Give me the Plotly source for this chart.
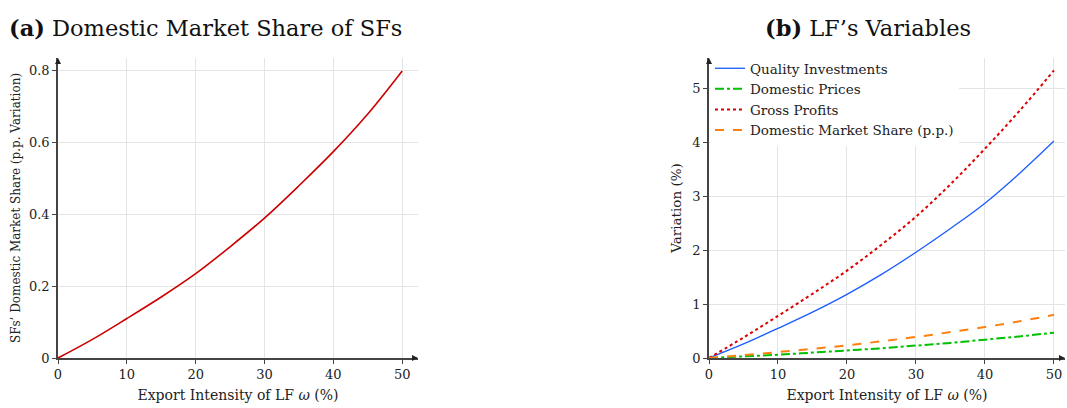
import plotly.graph_objects as go

omega = [0, 5, 10, 15, 20, 25, 30, 35, 40, 45, 50]
sf_share = [0, 0.052, 0.11, 0.17, 0.235, 0.31, 0.39, 0.48, 0.575, 0.68, 0.80]
quality = [0, 0.26, 0.55, 0.85, 1.18, 1.55, 1.96, 2.40, 2.87, 3.42, 4.02]
prices = [0, 0.03, 0.06, 0.10, 0.14, 0.18, 0.23, 0.28, 0.34, 0.40, 0.47]
profits = [0, 0.38, 0.78, 1.19, 1.62, 2.10, 2.62, 3.22, 3.88, 4.58, 5.33]
lf_share = [0, 0.052, 0.11, 0.17, 0.235, 0.31, 0.39, 0.48, 0.575, 0.68, 0.80]

x_ticks = [0, 10, 20, 30, 40, 50]
ya_ticks = [0, 0.2, 0.4, 0.6, 0.8]
yb_ticks = [0, 1, 2, 3, 4, 5]

FONT = "DejaVu Serif"
W, H = 1067.0, 408.0
fig = go.Figure()

fig.add_trace(go.Scatter(x=omega, y=sf_share, mode="lines", line=dict(color="#cc0000", width=1.6, shape="spline"),
                         showlegend=False, xaxis="x", yaxis="y"))

fig.add_trace(go.Scatter(x=omega, y=quality, mode="lines", name="Quality Investments",
                         line=dict(color="#1a5cff", width=1.3, shape="spline"), xaxis="x2", yaxis="y2"))
fig.add_trace(go.Scatter(x=omega, y=prices, mode="lines", name="Domestic Prices",
                         line=dict(color="#00c000", width=2, dash="dashdot", shape="spline"), xaxis="x2", yaxis="y2"))
fig.add_trace(go.Scatter(x=omega, y=profits, mode="lines", name="Gross Profits",
                         line=dict(color="#dd0000", width=2, dash="dot", shape="spline"), xaxis="x2", yaxis="y2"))
fig.add_trace(go.Scatter(x=omega, y=lf_share, mode="lines", name="Domestic Market Share (p.p.)",
                         line=dict(color="#ff7f0e", width=2, dash="dash", shape="spline"), xaxis="x2", yaxis="y2"))

ybot = 1 - 358 / H
ytop = 1 - 58 / H

common_x = dict(tickvals=x_ticks, showgrid=True, gridcolor="#e4e4e4", gridwidth=1, zeroline=False,
                showline=True, linecolor="#444", linewidth=1.5, ticks="outside", ticklen=4, tickcolor="#444",
                tickfont=dict(family=FONT, size=13, color="#222"), automargin=False)
common_y = dict(showgrid=True, gridcolor="#e4e4e4", gridwidth=1, zeroline=False,
                showline=True, linecolor="#444", linewidth=1.5, ticks="outside", ticklen=4, tickcolor="#444",
                tickfont=dict(family=FONT, size=13, color="#222"), automargin=False)

fig.update_layout(
    width=1067, height=408,
    margin=dict(l=0, r=0, t=0, b=0),
    paper_bgcolor="white", plot_bgcolor="white",
    font=dict(family=FONT, color="#222"),
    xaxis=dict(domain=[58 / W, 418 / W], range=[0, 52.3], anchor="y",
               title=dict(text="Export Intensity of LF <i>ω</i> (%)", font=dict(family=FONT, size=14), standoff=9),
               **common_x),
    yaxis=dict(domain=[ybot, ytop], range=[0, 0.836], anchor="x", tickvals=ya_ticks,
               ticktext=["0", "0.2", "0.4", "0.6", "0.8"],
               title=dict(text="SFs’ Domestic Market Share (p.p. Variation)", font=dict(family=FONT, size=12), standoff=6),
               **common_y),
    xaxis2=dict(domain=[709 / W, 1065 / W], range=[0, 51.6], anchor="y2",
                title=dict(text="Export Intensity of LF <i>ω</i> (%)", font=dict(family=FONT, size=14), standoff=9),
                **common_x),
    yaxis2=dict(domain=[ybot, ytop], range=[0, 5.56], anchor="x2", tickvals=yb_ticks,
                title=dict(text="Variation (%)", font=dict(family=FONT, size=13.5), standoff=8),
                **common_y),
    legend=dict(x=710 / W, y=ytop + 5 / H, xanchor="left", yanchor="top", bgcolor="white",
                borderwidth=0, font=dict(family=FONT, size=13.5, color="#222"), tracegroupgap=0,
                itemwidth=30),
    annotations=[
        dict(text="<b>(a)</b> Domestic Market Share of SFs", x=205 / W, y=1 - 28 / H, xref="paper", yref="paper",
             showarrow=False, font=dict(family=FONT, size=22.5, color="#111"), xanchor="center", yanchor="middle"),
        dict(text="<b>(b)</b> LF’s Variables", x=868 / W, y=1 - 28 / H, xref="paper", yref="paper",
             showarrow=False, font=dict(family=FONT, size=22.5, color="#111"), xanchor="center", yanchor="middle"),
        dict(x=52.3, y=0, xref="x", yref="y", ax=-7, ay=0, showarrow=True, arrowhead=2, arrowsize=1,
             arrowwidth=1.2, arrowcolor="#222", text=""),
        dict(x=0, y=0.836, xref="x", yref="y", ax=0, ay=7, showarrow=True, arrowhead=2, arrowsize=1,
             arrowwidth=1.2, arrowcolor="#222", text=""),
        dict(x=51.6, y=0, xref="x2", yref="y2", ax=-7, ay=0, showarrow=True, arrowhead=2, arrowsize=1,
             arrowwidth=1.2, arrowcolor="#222", text=""),
        dict(x=0, y=5.56, xref="x2", yref="y2", ax=0, ay=7, showarrow=True, arrowhead=2, arrowsize=1,
             arrowwidth=1.2, arrowcolor="#222", text=""),
    ],
)

fig.write_html("out.html", config={"displayModeBar": False},
               post_script="document.body.style.margin='0px';document.body.style.overflow='hidden';")
